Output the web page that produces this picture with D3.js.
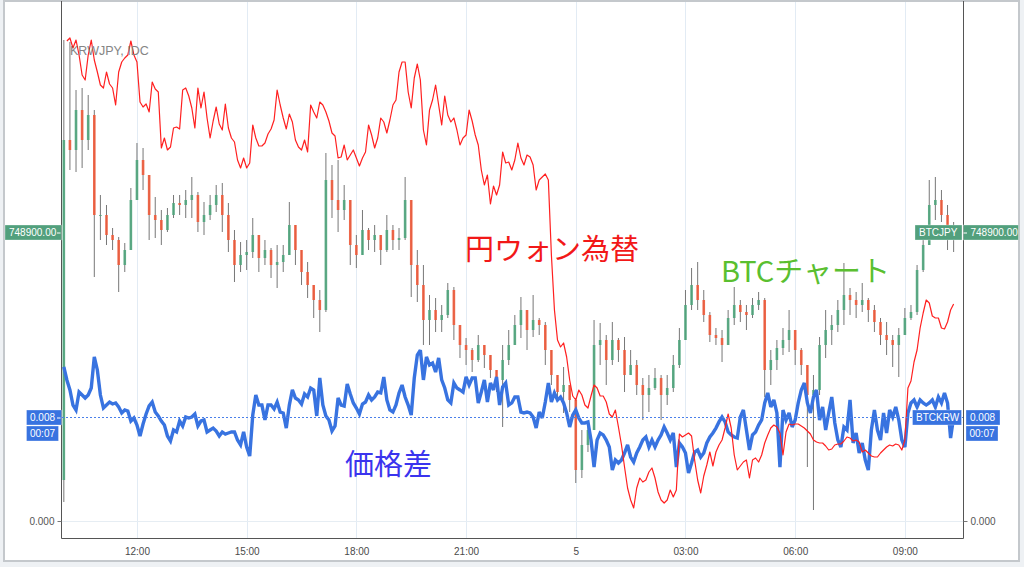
<!DOCTYPE html>
<html><head><meta charset="utf-8">
<script src="https://cdn.jsdelivr.net/npm/d3@7"></script>
<style>
html,body{margin:0;padding:0;background:#eef1f4;}
svg{display:block;}
</style></head>
<body><svg id="c" width="1024" height="567"></svg>
<script>
// ---- DATA ----
// BTCJPY 10-minute candles starting 2017-11-04 10:00 (open = previous close)
const btcFirstOpen = 724100;
const btcClose = [
758100,757100,761100,758100,760600,750600,750600,748600,748100,745600,
747100,752100,756100,754600,750600,750100,749100,750600,751800,751600,
752100,752600,749900,750600,751600,752600,750600,748100,745600,746600,
746900,748600,746300,747100,745600,745900,746600,749600,747100,744900,
743600,742100,741100,754100,752100,751100,752100,747600,746600,749100,
748100,748600,747100,749100,748100,748300,752100,745600,743600,740100,
741100,740100,740600,743100,739600,737600,737100,736100,737600,736600,
735100,734100,736100,737600,739600,741100,739100,740100,739600,737100,
734600,732900,733600,732100,725100,727600,729100,737600,738100,736100,
738100,737100,734600,735600,733600,732600,733300,734300,732600,733300,
735600,738100,741600,743600,742100,740600,738600,738300,737600,740300,
741600,740900,740600,741600,742100,735100,736100,737300,738100,739100,
737100,735600,732600,733100,737600,739100,739600,741100,742600,742100,
741600,742100,741100,739900,738600,738100,737600,738600,740300,740900,
745100,747600,751600,752100,750600,748600,748900];
const btcHigh = [
768100,767900,763100,763300,762600,761100,752600,751600,749300,748400,
747800,753300,757800,757300,754600,752400,751100,751300,752600,752600,
753100,754400,752900,751900,752600,753600,753800,751800,749100,747900,
748100,750300,748600,748100,747300,747600,747600,751900,749300,746600,
745900,743600,743100,756800,755600,756100,753600,752100,748600,751100,
749300,749600,748600,750600,749600,749300,754400,752100,747100,745600,
742600,742300,741600,743800,743400,739300,738300,737300,738600,737600,
736300,735100,737600,739100,740600,742400,741100,742600,740300,739900,
737100,734600,735400,733600,732300,729100,729800,740100,739800,738600,
739900,738300,738400,737100,736100,734300,734600,735300,734600,734600,
736600,739300,743100,745300,745900,743100,740900,739300,739100,741100,
743400,742100,741600,742300,742900,742300,737100,738100,739300,741100,
739100,737300,735600,734600,738400,741100,740600,742100,745800,743300,
742900,743800,742300,741600,740300,739900,738600,739300,741300,741600,
745600,749300,754100,754400,753100,751600,749900];
const btcLow = [
721900,755100,754900,755300,757100,744400,748100,747600,747100,742900,
744900,747600,752100,753100,748100,748300,747600,748900,750300,750600,
750300,750300,748900,748600,750100,750900,748900,746900,743900,744900,
745100,746300,744900,745600,744300,743300,744900,747100,745600,743600,
742300,740300,738900,740900,750300,748900,750100,745600,745300,747100,
747100,746900,745600,746900,747100,747100,748100,742400,741900,737600,
737600,738900,738900,740300,738100,736300,735600,734900,735900,735300,
734300,732900,729400,735600,737600,738300,737100,738400,738600,735600,
733600,731900,730800,730900,723800,724300,726900,729100,735600,733600,
735600,735900,732900,734600,732600,730100,730900,733100,730100,731600,
732900,735300,738100,741100,741100,739900,737900,737600,735900,737600,
739600,739900,739100,740300,741100,732400,733600,735100,736600,736900,
735600,734600,725400,721100,732600,736300,737600,738900,739600,740600,
740300,740900,739900,738900,737600,736600,735400,734400,738600,740100,
740600,744900,748100,750100,749900,747100,746900];

// KRWJPY (JPY per 100 KRW, IDC), 5-minute points starting 10:05
const krwjpy = [
10.459,10.462,10.452,10.460,10.445,10.425,10.420,10.445,10.460,10.440,
10.428,10.415,10.412,10.428,10.416,10.412,10.395,10.428,10.438,10.442,
10.445,10.459,10.445,10.438,10.398,10.393,10.396,10.388,10.418,10.411,
10.408,10.352,10.362,10.350,10.353,10.372,10.373,10.371,10.410,10.412,
10.404,10.392,10.372,10.412,10.392,10.408,10.382,10.362,10.379,10.393,
10.376,10.370,10.396,10.372,10.362,10.358,10.340,10.332,10.342,10.332,
10.337,10.375,10.362,10.354,10.354,10.357,10.366,10.371,10.380,10.410,
10.395,10.382,10.371,10.386,10.378,10.360,10.353,10.350,10.360,10.348,
10.395,10.388,10.382,10.398,10.395,10.388,10.379,10.367,10.364,10.342,
10.343,10.355,10.340,10.345,10.350,10.342,10.334,10.342,10.348,10.375,
10.365,10.352,10.362,10.382,10.378,10.367,10.380,10.395,10.400,10.428,
10.438,10.438,10.408,10.392,10.422,10.436,10.420,10.370,10.355,10.390,
10.400,10.415,10.395,10.375,10.404,10.385,10.378,10.382,10.370,10.355,
10.362,10.365,10.390,10.379,10.365,10.355,10.330,10.315,10.325,10.296,
10.314,10.305,10.315,10.348,10.337,10.338,10.330,10.340,10.357,10.342,
10.335,10.345,10.343,10.335,10.310,10.320,10.323,10.326,10.320,10.245,
10.190,10.160,10.153,10.157,10.143,10.120,10.104,10.100,10.110,10.105,
10.095,10.092,10.104,10.115,10.112,10.104,10.104,10.098,10.086,10.083,
10.090,10.073,10.055,10.033,10.012,10.000,9.992,10.012,10.022,10.018,
10.020,10.028,10.032,10.022,10.008,10.000,9.997,10.000,10.010,10.003,
10.010,10.066,10.063,10.065,10.067,10.064,10.040,10.020,10.007,10.024,
10.035,10.048,10.034,10.048,10.055,10.060,10.072,10.086,10.072,10.045,
10.030,10.034,10.038,10.040,10.022,10.040,10.042,10.038,10.045,10.057,
10.065,10.072,10.075,10.073,10.067,10.045,10.068,10.076,10.075,10.076,
10.076,10.074,10.072,10.069,10.066,10.060,10.058,10.057,10.057,10.054,
10.050,10.051,10.055,10.056,10.056,10.059,10.063,10.062,10.059,10.060,
10.058,10.048,10.050,10.047,10.044,10.043,10.043,10.047,10.050,10.053,
10.055,10.054,10.056,10.055,10.050,10.060,10.112,10.119,10.138,10.150,
10.172,10.187,10.200,10.197,10.184,10.182,10.182,10.172,10.171,10.178,
10.190,10.196];

// BTC price gap (BTCKRW vs BTCJPY) in per-mille, 5-minute points starting 10:00
const spreadPermille = [
11.85,10.85,10.08,8.92,8.54,9.92,9.69,9.46,9.69,10.23,
12.62,11.62,9.69,8.69,8.92,9.15,9.00,9.08,8.77,8.31,
8.54,8.46,7.69,7.92,7.38,6.54,7.46,8.23,8.85,9.15,
8.38,8.08,7.69,7.38,6.54,6.15,7.00,6.85,7.69,7.31,
8.00,7.92,8.00,8.23,7.31,7.69,7.77,6.85,7.00,7.15,
6.92,6.54,6.85,6.69,6.77,6.85,6.85,6.23,5.85,6.85,
5.69,5.00,8.15,9.69,8.92,8.92,7.77,8.92,8.92,8.62,
9.15,8.38,8.31,7.15,8.92,10.08,9.46,9.31,9.00,9.77,
9.54,10.23,10.08,8.08,11.00,8.92,8.08,7.77,6.92,7.31,
9.46,8.92,8.85,10.54,9.77,9.08,8.69,8.23,9.00,9.15,
9.69,9.31,9.54,9.92,9.85,11.08,9.31,8.54,8.38,8.92,
9.85,10.46,9.54,8.92,8.15,11.00,12.77,13.15,10.85,12.62,
12.00,12.15,11.46,12.54,10.85,10.23,9.31,9.08,10.62,10.23,
10.08,9.92,11.08,10.46,11.00,11.00,9.08,9.92,10.85,9.15,
10.62,10.08,11.08,8.92,10.31,10.62,8.92,9.08,9.54,9.54,
8.38,8.31,8.38,8.31,8.00,7.15,8.38,7.92,9.15,10.62,
9.15,9.85,9.31,9.54,9.08,8.31,7.23,8.15,8.54,7.92,
7.54,7.54,7.62,6.23,4.15,6.23,6.77,6.62,6.23,5.69,
3.92,4.69,4.46,4.69,5.23,5.85,4.92,4.54,5.23,5.69,
6.23,6.46,5.69,6.23,5.69,6.23,6.62,7.23,6.77,6.23,
6.77,4.15,6.00,5.69,5.23,3.69,4.46,5.31,5.46,4.92,
5.23,6.00,6.46,6.77,7.15,7.62,8.00,7.62,6.85,6.62,
6.46,6.38,8.00,8.54,7.00,5.46,6.62,6.85,7.38,7.77,
9.08,9.85,8.77,9.31,8.31,4.15,8.54,7.77,8.31,7.23,
7.77,9.08,10.08,10.62,9.08,8.31,9.54,10.08,7.77,8.77,
7.00,8.31,9.54,7.54,6.23,5.69,7.23,7.00,9.31,6.00,
6.77,5.23,6.00,4.69,3.92,7.00,8.54,7.00,6.23,8.31,
6.77,8.54,8.00,8.77,7.77,6.23,5.69,8.31,9.08,9.31,
8.77,9.31,9.08,8.92,9.08,9.31,8.77,9.54,9.08,9.85,
9.08,6.38,8.00];

const seriesNames = {candle: "BTCJPY", spread: "BTCKRW", fx: "KRWJPY, IDC"};
const annotations = {fx: "円ウォン為替", candle: "BTCチャート", spread: "価格差"};
const countdown = "00:07";

// ---- BUILD ----
const MIN = 60000;
const t0 = new Date(2017, 10, 4, 10, 0);
const candles = btcClose.map((c, j) => {
  const o = j === 0 ? btcFirstOpen : btcClose[j - 1];
  return {t: new Date(+t0 + j * 10 * MIN), o, c,
          h: Math.max(btcHigh[j], o, c), l: Math.min(btcLow[j], o, c)};
});
const fx = krwjpy.map((v, i) => ({t: new Date(+t0 + (i + 1) * 5 * MIN), v}));
const spread = spreadPermille.map((v, i) => ({t: new Date(+t0 + i * 5 * MIN), v: v / 1000}));

const FONT = "'Liberation Sans', Arial, sans-serif";
const CJK = "'Noto Sans CJK JP', 'Noto Sans CJK SC', sans-serif";
const L = 62, R = 963, B = 538;
const GREEN = "#52a07d", BLUE = "#3873e0";

const x = d3.scaleTime()
  .domain([new Date(2017, 10, 4, 9, 57), new Date(2017, 10, 5, 10, 37)])
  .range([L, 964]);
const yC = d3.scaleLinear().domain([722100, 772100]).range([500, 0]);
const yR = d3.scaleLinear().domain([10.0, 10.5]).range([500, 0]);
const yB = d3.scaleLinear().domain([0, 0.008]).range([521, 417]);

const svg = d3.select("#c");
svg.append("rect").attr("x", 4).attr("y", 1).attr("width", 1015).attr("height", 560)
  .attr("fill", "#fff").attr("stroke", "#c4c8cc").attr("stroke-width", 2);

svg.append("defs").append("clipPath").attr("id", "plot")
  .append("rect").attr("x", L).attr("y", 2).attr("width", R - L).attr("height", B - 2);

// grid
const hourTicks = x.ticks(d3.timeHour.every(3));
svg.append("g").selectAll("line").data(hourTicks).join("line")
  .attr("x1", d => Math.round(x(d)) + 0.5).attr("x2", d => Math.round(x(d)) + 0.5)
  .attr("y1", 2).attr("y2", B).attr("stroke", "#e2ebf4").attr("stroke-width", 1);
svg.append("line").attr("x1", L).attr("x2", R).attr("y1", Math.round(yB(0)) + 0.5).attr("y2", Math.round(yB(0)) + 0.5)
  .attr("stroke", "#e6edf3");

const plot = svg.append("g").attr("clip-path", "url(#plot)");

// candles
const cg = plot.append("g");
cg.selectAll("line").data(candles).join("line")
  .attr("x1", d => x(d.t)).attr("x2", d => x(d.t))
  .attr("y1", d => yC(d.h)).attr("y2", d => yC(d.l))
  .attr("stroke", "#777").attr("stroke-width", 1);
cg.selectAll("rect").data(candles).join("rect")
  .attr("x", d => x(d.t) - 1.3).attr("width", 2.6)
  .attr("y", d => yC(Math.max(d.o, d.c)))
  .attr("height", d => Math.max(1, Math.abs(yC(d.o) - yC(d.c))))
  .attr("fill", d => d.c >= d.o ? "#4fa57c" : "#ef5a3a").attr("opacity", 0.9);

// spread (blue)
plot.append("path").datum(spread)
  .attr("d", d3.line().x(d => x(d.t)).y(d => yB(d.v)))
  .attr("fill", "none").attr("stroke", BLUE).attr("stroke-width", 3.4)
  .attr("stroke-linejoin", "miter").attr("stroke-miterlimit", 3);

// KRWJPY (red)
plot.append("path").datum(fx)
  .attr("d", d3.line().x(d => x(d.t)).y(d => yR(d.v)))
  .attr("fill", "none").attr("stroke", "#ff2020").attr("stroke-width", 1.2)
  .attr("stroke-linejoin", "round");

// last-value price line of spread
const lastSpread = spread[spread.length - 1].v;
const lastClose = candles[candles.length - 1].c;
const ySpread = Math.round(yB(lastSpread)) + 0.5;
svg.append("line").attr("x1", L).attr("x2", R).attr("y1", ySpread).attr("y2", ySpread)
  .attr("stroke", "#4a80ea").attr("stroke-width", 1).attr("stroke-dasharray", "2,2");

// axes
const fmt = d => d.getHours() === 0 ? d3.timeFormat("%-d")(d) : d3.timeFormat("%H:%M")(d);
const ax = svg.append("g").attr("transform", `translate(0,${B})`)
  .call(d3.axisBottom(x).tickValues(hourTicks).tickFormat(fmt).tickSize(0).tickPadding(10));
ax.select(".domain").remove();
ax.selectAll("text").attr("fill", "#4a4a4a").style("font-size", "10px").style("font-family", FONT);

svg.append("path").attr("d", `M${L - 0.5},1V${B + 0.5}H${R + 0.5}V1`)
  .attr("fill", "none").attr("stroke", "#555").attr("stroke-width", 1);

const ayL = svg.append("g").attr("transform", `translate(${L - 0.5},0)`)
  .call(d3.axisLeft(yB).tickValues([0]).tickFormat(d3.format(".3f")).tickSize(4).tickPadding(3));
const ayR = svg.append("g").attr("transform", `translate(${R + 0.5},0)`)
  .call(d3.axisRight(yB).tickValues([0]).tickFormat(d3.format(".3f")).tickSize(4).tickPadding(3));
[ayL, ayR].forEach(a => {
  a.select(".domain").remove();
  a.selectAll("line").attr("stroke", "#777");
  a.selectAll("text").attr("fill", "#555").style("font-size", "10px").style("font-family", FONT);
});

// price tags
function tag(xl, w, yc, text, fill, opt = {}) {
  const g = svg.append("g");
  g.append("rect").attr("x", xl).attr("y", yc - 7.5).attr("width", w).attr("height", 15)
    .attr("fill", fill).attr("stroke", "rgba(255,255,255,0.6)").attr("stroke-width", 0.5);
  g.append("text").attr("x", xl + (opt.pad || 3.5)).attr("y", yc).attr("dy", "0.36em")
    .attr("fill", "#fff").style("font-size", "10px").style("font-family", FONT).text(text);
  if (opt.dash !== undefined) {
    g.append("line").attr("x1", opt.dash).attr("x2", opt.dash + 3.5).attr("y1", yc + 0.5).attr("y2", yc + 0.5)
      .attr("stroke", "#fff").attr("stroke-width", 1);
  }
}
const yLast = Math.round(yC(lastClose)) + 0.5;
const closeTxt = d3.format(".2f")(lastClose);
const spreadTxt = d3.format(".3f")(lastSpread);
tag(5, 56.5, yLast, closeTxt, GREEN, {pad: 4, dash: 57});
tag(915, 47, yLast, seriesNames.candle, GREEN, {pad: 4});
tag(963.5, 55, yLast, closeTxt, GREEN, {pad: 7, dash: 963.5});
tag(26.5, 35, ySpread, spreadTxt, BLUE, {pad: 3.5, dash: 57});
tag(26.5, 32, ySpread + 16, countdown, BLUE, {pad: 3.5});
tag(912.5, 49, ySpread, seriesNames.spread, BLUE, {pad: 3.5});
tag(966, 34, ySpread, spreadTxt, BLUE, {pad: 4});
tag(966, 32, ySpread + 16, countdown, BLUE, {pad: 3.5});

// series title
svg.append("text").attr("x", 70).attr("y", 55).attr("fill", "#858585")
  .style("font-size", "12.5px").style("font-family", FONT).text(seriesNames.fx);

// annotations
svg.append("text").attr("x", 465).attr("y", 260).attr("fill", "#f21818")
  .style("font-size", "29px").style("font-family", CJK).text(annotations.fx);
svg.append("text").attr("x", 721).attr("y", 282).attr("fill", "#5abf30")
  .style("font-size", "29px").style("font-family", CJK).text(annotations.candle);
svg.append("text").attr("x", 345).attr("y", 475).attr("fill", "#3a34ee")
  .style("font-size", "29px").style("font-family", CJK).text(annotations.spread);
</script>
</body></html>
